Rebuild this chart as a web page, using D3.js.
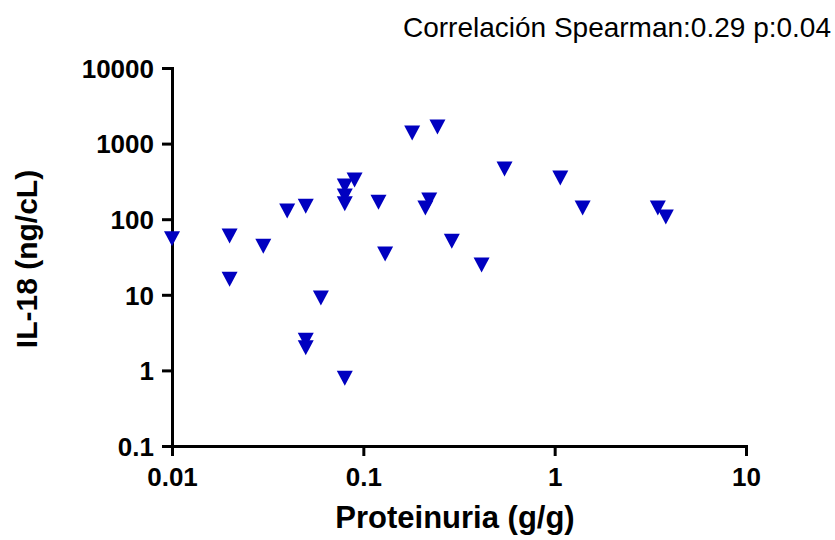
<!DOCTYPE html>
<html>
<head>
<meta charset="utf-8">
<script src="https://cdn.jsdelivr.net/npm/d3@7"></script>
<style>
  body { margin: 0; background: #fff; }
  text { font-family: "Liberation Sans", Arial, sans-serif; }
</style>
</head>
<body>
<div id="chart"></div>
<script>
// Data (proteinuria g/g vs IL-18 ng/cL)
const proteinuria = [0.01, 0.02, 0.02, 0.03, 0.04, 0.05, 0.05, 0.05, 0.06, 0.08, 0.08, 0.08, 0.09, 0.08,
  0.12, 0.13, 0.18, 0.244, 0.211, 0.221, 0.29, 0.415, 0.547, 1.07, 1.40, 3.46, 3.81];
const il18 = [55, 60, 16, 44, 128, 148, 2.5, 2.0, 9.1, 274, 203, 160, 330, 0.79,
  168, 34.6, 1380, 1660, 141, 180, 51, 24.8, 461, 351, 141, 141, 107];

const xTicks = [0.01, 0.1, 1, 10];
const xTickLabels = ["0.01", "0.1", "1", "10"];
const yTicks = [0.1, 1, 10, 100, 1000, 10000];
const yTickLabels = ["0.1", "1", "10", "100", "1000", "10000"];

const title = "Correlación Spearman:0.29 p:0.04";
const xLabel = "Proteinuria (g/g)";
const yLabel = "IL-18 (ng/cL)";

const width = 835, height = 540;
const margin = { top: 68, right: 89, bottom: 94, left: 172 };

const svg = d3.select("#chart").append("svg")
  .attr("width", width)
  .attr("height", height);

// Log scales on both axes
const x = d3.scaleLog()
  .domain([0.01, 10])
  .range([margin.left, width - margin.right]);

const y = d3.scaleLog()
  .domain([0.1, 10000])
  .range([height - margin.bottom, margin.top]);

// X axis
const xAxis = svg.append("g")
  .attr("transform", "translate(0," + (height - margin.bottom) + ")")
  .call(d3.axisBottom(x)
    .tickValues(xTicks)
    .tickFormat((d, i) => xTickLabels[i])
    .tickSize(10)
    .tickSizeOuter(0)
    .tickPadding(12));

// Y axis
const yAxis = svg.append("g")
  .attr("transform", "translate(" + margin.left + ",0)")
  .call(d3.axisLeft(y)
    .tickValues(yTicks)
    .tickFormat((d, i) => yTickLabels[i])
    .tickSize(10)
    .tickSizeOuter(0)
    .tickPadding(8));

[xAxis, yAxis].forEach(g => {
  g.select(".domain").attr("stroke", "#000").attr("stroke-width", 3).attr("stroke-linecap", "square");
  g.selectAll(".tick line").attr("stroke", "#000").attr("stroke-width", 3);
  g.selectAll(".tick text")
    .attr("fill", "#000")
    .style("font-family", "'Liberation Sans', Arial, sans-serif")
    .style("font-size", "26px")
    .style("font-weight", "bold");
});

yAxis.selectAll(".tick text").attr("dy", "0.36em");

// Markers: downward triangles
const tri = "M-8,-7.5L8,-7.5L0,7.5Z";
svg.append("g")
  .selectAll("path")
  .data(proteinuria.map((p, i) => ({ p: p, v: il18[i] })))
  .enter().append("path")
  .attr("d", tri)
  .attr("transform", d => "translate(" + x(d.p) + "," + y(d.v) + ")")
  .attr("fill", "#0000C0");

// Axis titles
svg.append("text")
  .attr("x", 455)
  .attr("y", 528)
  .attr("text-anchor", "middle")
  .style("font-size", "31px")
  .style("font-weight", "bold")
  .text(xLabel);

svg.append("text")
  .attr("transform", "translate(37," + 259 + ") rotate(-90)")
  .attr("text-anchor", "middle")
  .style("font-size", "30px")
  .style("font-weight", "bold")
  .text(yLabel);

// Correlation note top right
svg.append("text")
  .attr("x", 831)
  .attr("y", 37)
  .attr("text-anchor", "end")
  .style("font-size", "28px")
  .text(title);
</script>
</body>
</html>
